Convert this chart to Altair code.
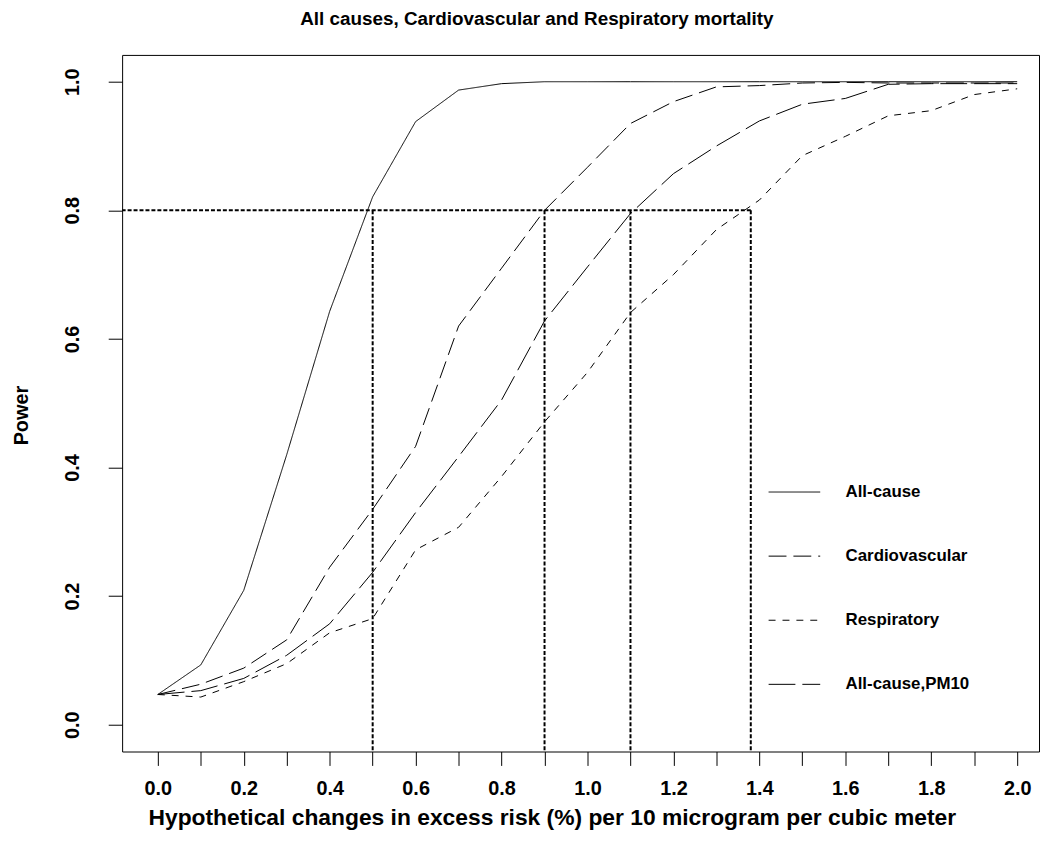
import altair as alt
import pandas as pd

# ---- data ----
x_vals = [0.0, 0.1, 0.2, 0.3, 0.4, 0.5, 0.6, 0.7, 0.8, 0.9, 1.0,
          1.1, 1.2, 1.3, 1.4, 1.5, 1.6, 1.7, 1.8, 1.9, 2.0]

all_cause = [0.047, 0.093, 0.209, 0.420, 0.643, 0.821, 0.938, 0.987, 0.997, 1.000, 1.000,
             1.000, 1.000, 1.000, 1.000, 1.000, 1.000, 1.000, 1.000, 1.000, 1.000]
cardio = [0.047, 0.063, 0.088, 0.132, 0.245, 0.335, 0.433, 0.620, 0.710, 0.800, 0.867,
          0.935, 0.969, 0.992, 0.994, 0.998, 0.999, 0.998, 0.998, 0.998, 0.998]
resp = [0.047, 0.043, 0.067, 0.095, 0.143, 0.165, 0.272, 0.307, 0.386, 0.471, 0.548,
        0.641, 0.700, 0.770, 0.816, 0.885, 0.915, 0.947, 0.955, 0.980, 0.989]
pm10 = [0.047, 0.053, 0.072, 0.108, 0.157, 0.237, 0.330, 0.417, 0.505, 0.628, 0.712,
        0.795, 0.857, 0.900, 0.939, 0.965, 0.974, 0.996, 0.997, 0.997, 0.997]

series_names = ["All-cause", "Cardiovascular", "Respiratory", "All-cause,PM10"]
series_dash = [[1, 0], [18, 7], [7, 7], [27, 7]]

ref_x = [0.5, 0.9, 1.1, 1.38]   # x where power reaches 0.8
ref_level = 0.8

x_ticks = [0.0, 0.1, 0.2, 0.3, 0.4, 0.5, 0.6, 0.7, 0.8, 0.9, 1.0,
           1.1, 1.2, 1.3, 1.4, 1.5, 1.6, 1.7, 1.8, 1.9, 2.0]
y_ticks = [0.0, 0.2, 0.4, 0.6, 0.8, 1.0]

x_domain = [-0.0831, 2.0508]
y_domain = [-0.0417, 1.0417]

FONT = "Liberation Sans"

# ---- tables ----
rows = []
for name, vals in zip(series_names, [all_cause, cardio, resp, pm10]):
    for xv, pv in zip(x_vals, vals):
        rows.append({"x": xv, "power": pv, "series": name})
df = pd.DataFrame(rows)

ref_df = pd.DataFrame({"xr": ref_x, "level": [ref_level] * len(ref_x)})
hline_df = pd.DataFrame({"xend": [max(ref_x)], "level": [ref_level]})

W, H = 924, 702

xscale = alt.Scale(domain=x_domain, nice=False, zero=False)
yscale = alt.Scale(domain=y_domain, nice=False, zero=False)

x_axis = alt.Axis(
    values=x_ticks,
    labelExpr="abs(round(datum.value*10) % 2) == 0 ? format(datum.value, '.1f') : ''",
    labelOverlap=False, labelFlush=False,
    title="Hypothetical changes in excess risk (%) per 10 microgram per cubic meter",
    titleX=433, titleY=67, titleBaseline="middle", titleAlign="center",
    labelPadding=13, labelBaseline="top",
)
y_axis = alt.Axis(
    values=y_ticks, format=".1f",
    labelAngle=-90, labelAlign="center", labelBaseline="bottom", labelPadding=26,
    title="Power", titleAngle=-90, titleX=-101, titleY=H / 2 + 12,
    titleBaseline="middle", titleAlign="center", titleFontSize=20,
)

lines = alt.Chart(df).mark_line(color="black", strokeWidth=1).encode(
    x=alt.X("x:Q", scale=xscale, axis=x_axis),
    y=alt.Y("power:Q", scale=yscale, axis=y_axis),
    strokeDash=alt.StrokeDash(
        "series:N",
        scale=alt.Scale(domain=series_names, range=series_dash),
        sort=series_names,
        legend=alt.Legend(
            title=None, orient="none", legendX=651, legendY=414,
            symbolType="stroke", symbolSize=2704, symbolStrokeWidth=1,
            symbolStrokeColor="black", rowPadding=29.6, labelOffset=25,
            labelFont=FONT, labelFontSize=17, labelFontWeight="bold",
            labelColor="black", padding=0, labelLimit=300,
        ),
    ),
)

vrules = alt.Chart(ref_df).mark_rule(color="black", strokeWidth=2, strokeDash=[4, 2]).encode(
    x=alt.X("xr:Q", scale=xscale),
    y=alt.Y("level:Q", scale=yscale),
    y2=alt.value(H),
)
hrule = alt.Chart(hline_df).mark_rule(color="black", strokeWidth=2, strokeDash=[4, 2]).encode(
    x=alt.X("xend:Q", scale=xscale),
    x2=alt.value(0),
    y=alt.Y("level:Q", scale=yscale),
)

chart = alt.layer(vrules, hrule, lines).properties(
    width=W, height=H,
    background="white",
    title=alt.Title(
        "All causes, Cardiovascular and Respiratory mortality",
        font=FONT, fontSize=19, fontWeight="bold", color="black",
        anchor="middle", frame="group", offset=26, dx=-44,
    ),
    autosize=alt.AutoSizeParams(type="none"),
    padding={"left": 115, "top": 44, "right": 2, "bottom": 100},
).configure_view(
    stroke="black", strokeWidth=1,
).configure_axis(
    grid=False, domain=False,
    tickSize=14, tickColor="black", tickWidth=1,
    labelFont=FONT, labelFontSize=20, labelFontWeight="bold", labelColor="black",
    titleFont=FONT, titleFontSize=23, titleFontWeight="bold", titleColor="black",
)

chart.save("out.html", embed_options={"renderer": "svg", "actions": False})
